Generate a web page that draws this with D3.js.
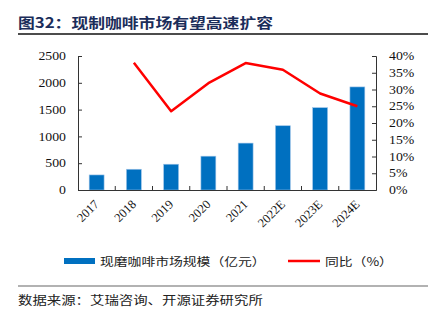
<!DOCTYPE html>
<html>
<head>
<meta charset="utf-8">
<script src="https://cdn.jsdelivr.net/npm/d3@7"></script>
<style>
  body { margin: 0; background: #fff; }
  svg { display: block; }
</style>
</head>
<body>
<svg id="chart"></svg>
<script>
// categories and series
const years = ['2017', '2018', '2019', '2020', '2021', '2022E', '2023E', '2024E'];
const marketSize = [281, 387, 481, 631, 875, 1199, 1536, 1923];   // 亿元
const growth = [null, 0.380, 0.235, 0.319, 0.379, 0.359, 0.288, 0.250];
const leftTicks = [0, 500, 1000, 1500, 2000, 2500];
const rightTicks = [0, 0.05, 0.10, 0.15, 0.20, 0.25, 0.30, 0.35, 0.40];

const titleText = '图32：现制咖啡市场有望高速扩容';
const barLabel = '现磨咖啡市场规模（亿元）';
const lineLabel = '同比（%）';
const sourceText = '数据来源：艾瑞咨询、开源证券研究所';

const W = 435, H = 321;
const margin = { top: 56, right: 59, bottom: 131, left: 78 };
const serif = '"Liberation Serif", "Times New Roman", serif';
const cjk = '"Noto Sans CJK SC", sans-serif';
const stretchX = 1.2;   // glyphs are drawn wide

// widen a text element along its baseline, keeping its font height
function widen(node, k) {
  const len = node.getComputedTextLength();
  d3.select(node).attr('textLength', len * k).attr('lengthAdjust', 'spacingAndGlyphs');
}

const svg = d3.select('#chart').attr('width', W).attr('height', H);

const x = d3.scaleBand()
  .domain(years)
  .range([margin.left, W - margin.right])
  .paddingInner(0.6)
  .paddingOuter(0.3);

const yL = d3.scaleLinear().domain([0, 2500]).range([H - margin.bottom, margin.top]);
const yR = d3.scaleLinear().domain([0, 0.4]).range([H - margin.bottom, margin.top]);

// title and rule
svg.append('text')
  .attr('x', 18).attr('y', 28)
  .attr('font-family', cjk).attr('font-weight', 'bold')
  .attr('font-size', 14).attr('fill', '#1b2d5a')
  .text(titleText)
  .each(function () { widen(this, stretchX); });

svg.append('line')
  .attr('x1', 18).attr('x2', 428).attr('y1', 34).attr('y2', 34)
  .attr('stroke', '#111').attr('stroke-width', 1.3);

// bars
svg.append('g').selectAll('rect')
  .data(years)
  .join('rect')
  .attr('x', d => x(d))
  .attr('width', x.bandwidth())
  .attr('y', (d, i) => yL(marketSize[i]))
  .attr('height', (d, i) => yL(0) - yL(marketSize[i]))
  .attr('fill', '#0070c0')
  .attr('stroke', '#9cc3e8')
  .attr('stroke-width', 0.6);

// growth line
const line = d3.line()
  .defined(d => d[1] != null)
  .x(d => x(d[0]) + x.bandwidth() / 2)
  .y(d => yR(d[1]));

svg.append('path')
  .datum(years.map((y, i) => [y, growth[i]]))
  .attr('d', line)
  .attr('fill', 'none')
  .attr('stroke', '#ff0000')
  .attr('stroke-width', 2.5)
  .attr('stroke-linejoin', 'round');

// axes
const axisColor = '#333';

const leftAxis = svg.append('g')
  .attr('transform', `translate(${margin.left},0)`)
  .call(d3.axisLeft(yL).tickValues(leftTicks).tickSize(-4).tickPadding(12).tickFormat(d3.format('d')));

const rightAxis = svg.append('g')
  .attr('transform', `translate(${W - margin.right},0)`)
  .call(d3.axisRight(yR).tickValues(rightTicks).tickSize(-4).tickPadding(13).tickFormat(d3.format('.0%')));

const bottomAxis = svg.append('g')
  .attr('transform', `translate(0,${H - margin.bottom})`)
  .call(d3.axisBottom(x).tickSize(0).tickPadding(0));

[leftAxis, rightAxis, bottomAxis].forEach(g => {
  g.select('.domain').attr('stroke', axisColor);
  g.selectAll('.tick line').attr('stroke', axisColor);
  g.selectAll('text').attr('font-family', serif).attr('font-size', 11.5).attr('fill', '#111');
});
leftAxis.selectAll('text').each(function () { widen(this, stretchX); });
rightAxis.selectAll('text').each(function () { widen(this, stretchX); });

// category labels at 45 degrees
bottomAxis.selectAll('.tick text')
  .attr('font-size', 12.5)
  .attr('text-anchor', 'end')
  .attr('dy', 0)
  .attr('y', 0)
  .attr('transform', 'translate(3,15) rotate(-45)');

// boundary ticks between categories (pointing up into the plot)
bottomAxis.selectAll('.sep')
  .data(years.slice(1))
  .join('line')
  .attr('class', 'sep')
  .attr('x1', d => x(d) + x.bandwidth() / 2 - x.step() / 2)
  .attr('x2', d => x(d) + x.bandwidth() / 2 - x.step() / 2)
  .attr('y1', 0).attr('y2', -4)
  .attr('stroke', axisColor);

// legend
const legend = svg.append('g').attr('transform', 'translate(0,261)');
legend.append('rect')
  .attr('x', 64).attr('y', -3).attr('width', 31).attr('height', 6)
  .attr('fill', '#0070c0');
legend.append('text')
  .attr('x', 100).attr('y', 4.5)
  .attr('font-family', cjk).attr('font-size', 11.5).attr('fill', '#222')
  .text(barLabel)
  .each(function () { widen(this, stretchX); });
legend.append('line')
  .attr('x1', 288).attr('x2', 320).attr('y1', 0).attr('y2', 0)
  .attr('stroke', '#ff0000').attr('stroke-width', 2.5);
legend.append('text')
  .attr('x', 325).attr('y', 4.5)
  .attr('font-family', cjk).attr('font-size', 11.5).attr('fill', '#222')
  .text(lineLabel)
  .each(function () { widen(this, stretchX); });

// source note
svg.append('line')
  .attr('x1', 18).attr('x2', 428).attr('y1', 286).attr('y2', 286)
  .attr('stroke', '#999').attr('stroke-width', 1.3);

svg.append('text')
  .attr('x', 18).attr('y', 305)
  .attr('font-family', cjk).attr('font-size', 12).attr('fill', '#222')
  .text(sourceText)
  .each(function () { widen(this, stretchX); });
</script>
</body>
</html>
